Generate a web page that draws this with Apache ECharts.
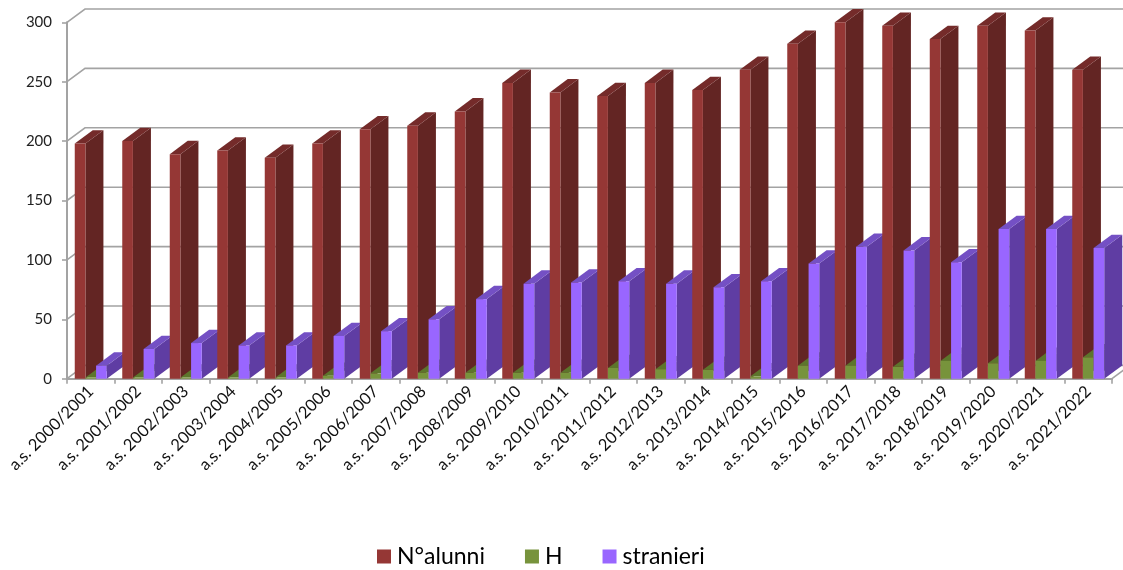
<!DOCTYPE html>
<html><head><meta charset="utf-8">
<script src="https://cdn.jsdelivr.net/npm/echarts@6/dist/echarts.min.js"></script>
<style>html,body{margin:0;padding:0;background:#fff}#c{width:1123px;height:570px}</style>
</head><body><div id="c"></div>
<script>
const categories = ['a.s. 2000/2001','a.s. 2001/2002','a.s. 2002/2003','a.s. 2003/2004','a.s. 2004/2005','a.s. 2005/2006','a.s. 2006/2007','a.s. 2007/2008','a.s. 2008/2009','a.s. 2009/2010','a.s. 2010/2011','a.s. 2011/2012','a.s. 2012/2013','a.s. 2013/2014','a.s. 2014/2015','a.s. 2015/2016','a.s. 2016/2017','a.s. 2017/2018','a.s. 2018/2019','a.s. 2019/2020','a.s. 2020/2021','a.s. 2021/2022'];
const alunni = [198,200,189,192,186,198,210,213,225,249,241,238,249,243,260,282,300,297,286,297,293,260];
const handicap = [1,1,1,1,1,2.5,4.5,5,5,5,5,9,8,7.5,2,11,11,10,15,13,15,18];
const stranieri = [11,25,30,28,28,36,40,50,67,80,81,82,80,77,82,97,111,108,98,126,126,110];
const yTicks = [0,50,100,150,200,250,300];

const DX = 18, DY = 13.3;
const GRID = '#a3a3a3';

function barRenderer(seriesIndex, front, side, top) {
  return function (params, api) {
    const cat = api.value(0), val = api.value(1);
    const p = api.coord([cat, val]), base = api.coord([cat, 0]);
    const catW = api.size([1, 0])[0];
    const w = catW * 0.2245;
    const x0 = p[0] - 1.5 * w + seriesIndex * w, x1 = x0 + w;
    const yt = p[1], yb = base[1];
    const z = cat * 3 + seriesIndex;
    return {
      type: 'group',
      children: [
        { type: 'polygon', z2: z, shape: { points: [[x1, yb], [x1 + DX, yb - DY], [x1 + DX, yt - DY], [x1, yt]] }, style: { fill: side } },
        { type: 'polygon', z2: z, shape: { points: [[x0, yt], [x0 + DX, yt - DY], [x1 + DX, yt - DY], [x1, yt]] }, style: { fill: top } },
        { type: 'rect', z2: z, shape: { x: x0, y: yt, width: w, height: yb - yt }, style: { fill: front } }
      ]
    };
  };
}

function wallRenderer(params, api) {
  const v = api.value(0);
  const a = api.coord([0, v]);
  const catW = api.size([1, 0])[0];
  const x = a[0] - catW / 2;
  const right = x + catW * categories.length;
  const children = [{
    type: 'polyline', z2: -1,
    shape: { points: [[x, a[1]], [x + DX, a[1] - DY], [api.getWidth() + 5, a[1] - DY]] },
    style: { fill: 'none', stroke: GRID, lineWidth: 1.6 }
  }];
  if (v === 0) children.push({
    type: 'line', z2: -1,
    shape: { x1: right, y1: a[1], x2: right + DX, y2: a[1] - DY },
    style: { stroke: GRID, lineWidth: 1.6 }
  });
  return { type: 'group', children };
}

const chart = echarts.init(document.getElementById('c'), null, { renderer: 'canvas' });
chart.setOption({
  animation: false,
  backgroundColor: '#ffffff',
  textStyle: { fontFamily: 'Lato' },
  grid: { left: 67, right: 11, top: 22.3, bottom: 191.3, containLabel: false },
  legend: {
    data: ['N°alunni', 'H', 'stranieri'],
    left: 372, top: 540,
    icon: 'rect', itemWidth: 14, itemHeight: 14, itemGap: 40,
    textStyle: { fontFamily: 'Lato', fontSize: 23, color: '#000', padding: [0, 0, 0, 1] }
  },
  xAxis: {
    type: 'category', data: categories,
    axisLine: { lineStyle: { color: GRID, width: 2 } },
    axisTick: { show: true, alignWithLabel: false, length: 5, lineStyle: { color: GRID, width: 1.6 } },
    axisLabel: { interval: 0, rotate: 45, margin: 10, fontFamily: 'Lato', fontSize: 16.5, color: '#111' },
    splitLine: { show: false }
  },
  yAxis: {
    type: 'value', min: 0, max: 300, interval: 50,
    axisLine: { show: true, lineStyle: { color: GRID, width: 2 } },
    axisTick: { show: true, length: 5, lineStyle: { color: GRID, width: 1.6 } },
    axisLabel: { margin: 15, padding: [3, 0, 0, 0], fontFamily: 'Lato', fontSize: 15, color: '#222' },
    splitLine: { show: false }
  },
  series: [
    { type: 'custom', name: 'wall', z: 1, silent: true, data: yTicks.map(v => [v]), encode: { y: 0 }, renderItem: wallRenderer },
    { type: 'custom', name: 'N°alunni', z: 2, itemStyle: { color: '#953735' }, data: alunni.map((v, i) => [i, v]), encode: { x: 0, y: 1 }, renderItem: barRenderer(0, '#953735', '#632523', '#742b2a') },
    { type: 'custom', name: 'H', z: 2, itemStyle: { color: '#77933c' }, data: handicap.map((v, i) => [i, v]), encode: { x: 0, y: 1 }, renderItem: barRenderer(1, '#77933c', '#4f6228', '#5d752c') },
    { type: 'custom', name: 'stranieri', z: 2, itemStyle: { color: '#9966ff' }, data: stranieri.map((v, i) => [i, v]), encode: { x: 0, y: 1 }, renderItem: barRenderer(2, '#9966ff', '#5f3da3', '#7450c4') }
  ]
});
</script></body></html>
